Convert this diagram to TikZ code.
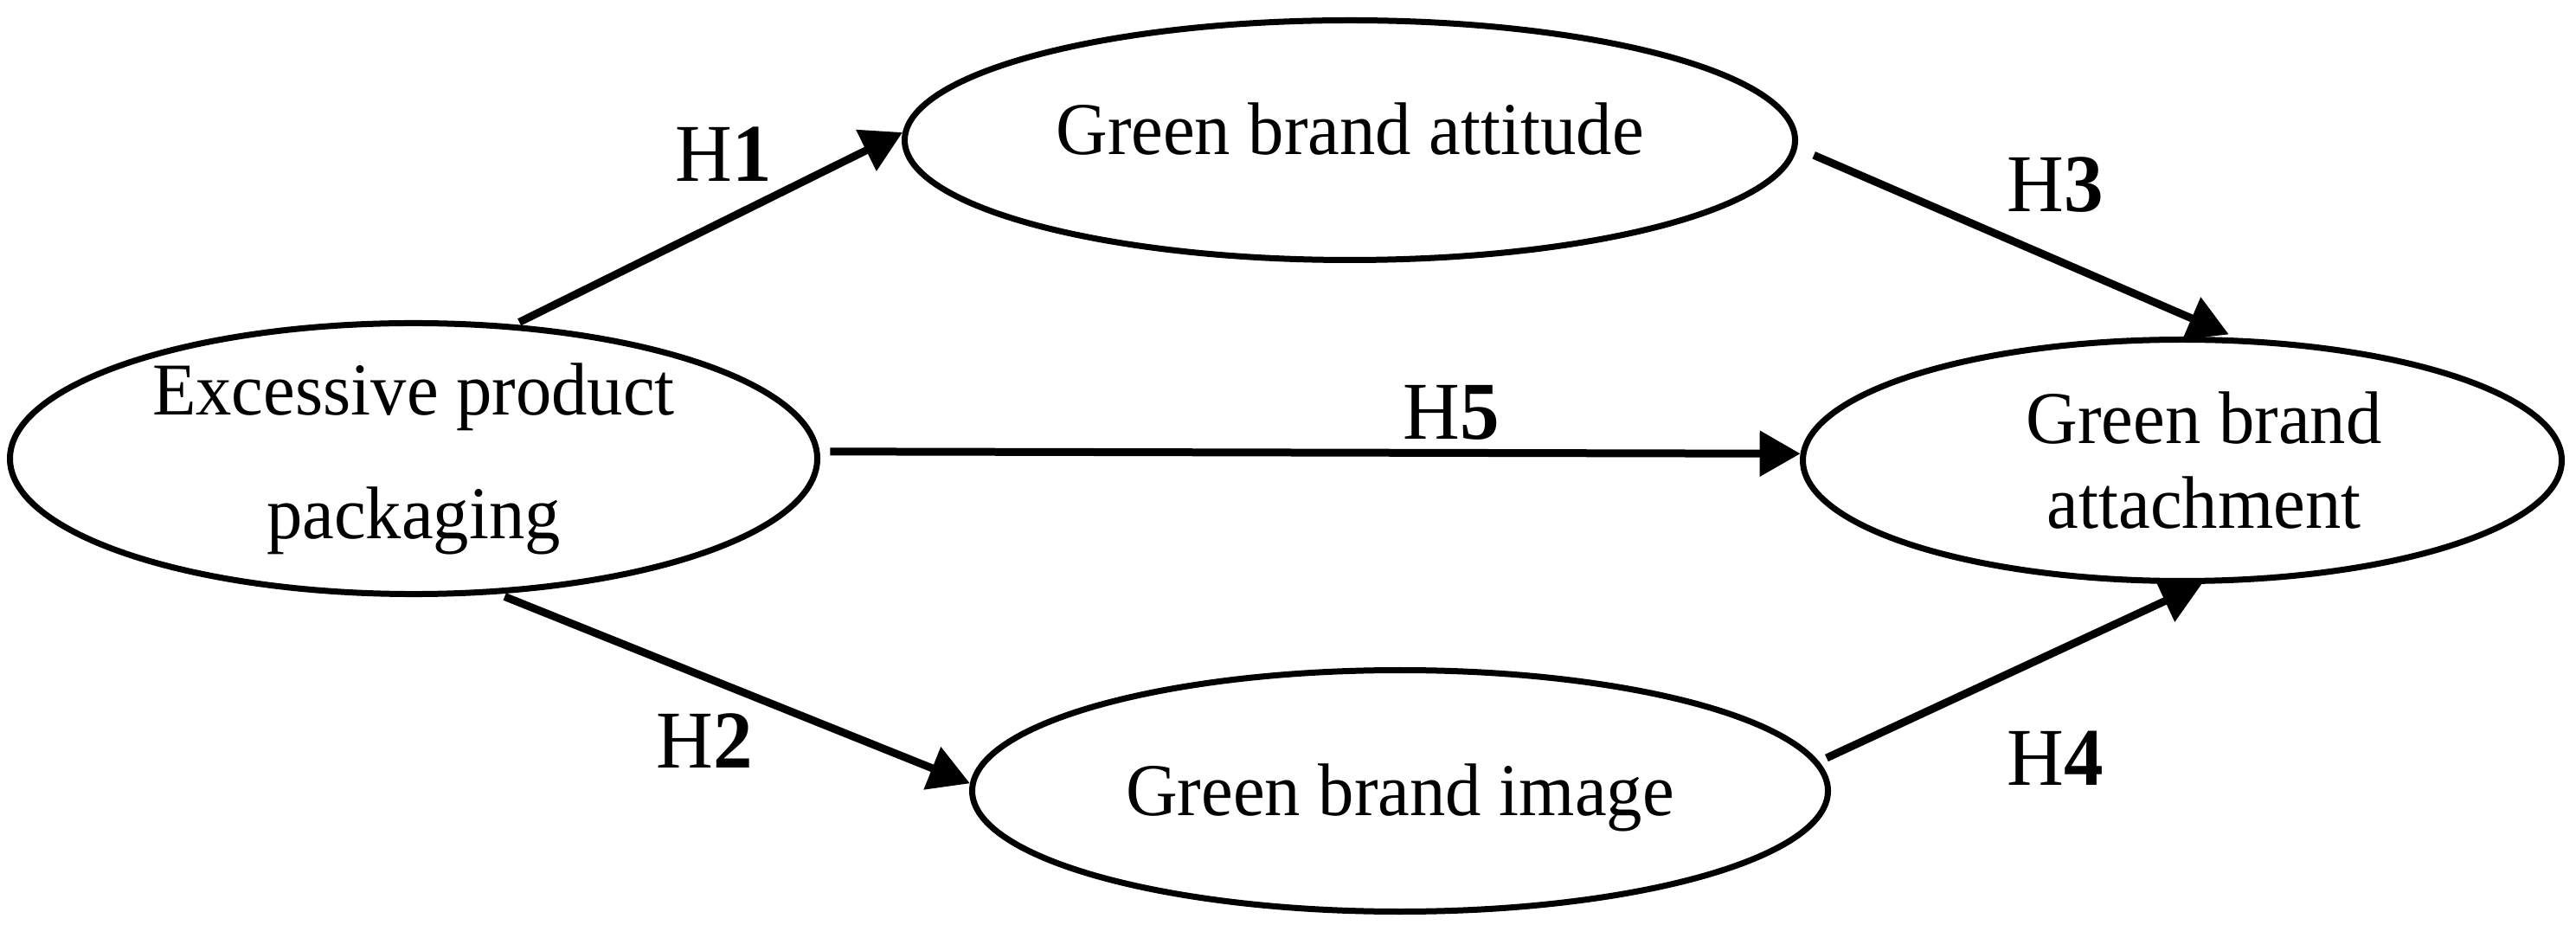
\documentclass[tikz,border=0pt]{standalone}
\usepackage{fontspec}
\setmainfont{Liberation Serif}[FakeStretch=0.96]
\usetikzlibrary{shapes.geometric,arrows.meta}
\begin{document}
\begin{tikzpicture}[
  oval/.style={ellipse, draw, line width=0.07cm, inner sep=0pt, align=center},
  link/.style={-{Triangle[length=0.47cm,width=0.51cm]}, line width=0.09cm},
  hyp/.style={anchor=base, inner sep=0pt, font=\fontsize{27}{32}\selectfont},
]
\useasboundingbox (0,0) rectangle (29.77,-10.69);
\node[oval, minimum width=9.33cm, minimum height=2.77cm,
      font=\fontsize{24.5}{40.7}\selectfont] (exc) at (4.78,-5.30) {Excessive product\\packaging};
\node[oval, minimum width=10.29cm, minimum height=2.77cm, text depth=0.27cm,
      font=\fontsize{24.5}{29}\selectfont] (att) at (15.60,-1.62) {Green brand attitude};
\node[oval, minimum width=8.77cm, minimum height=2.79cm,
      font=\fontsize{24.5}{27.9}\selectfont] (attach) at (25.22,-5.32)
      {\hspace*{0.5cm}Green brand\\\hspace*{0.5cm}attachment};
\node[oval, minimum width=9.89cm, minimum height=2.79cm, text depth=0.03cm,
      font=\fontsize{24.5}{29}\selectfont] (img) at (16.18,-9.14) {Green brand image};

\draw[link, shorten <=0.06cm] (exc.53) -- (att.179);
\draw[link, shorten <=0.12cm] (exc.1) -- (attach.179);
\draw[link, shorten <=0.21cm, shorten >=0.1cm] (att.-1) -- (attach.66);
\draw[link, shorten <=0.08cm] (exc.-58) -- (img.179);
\draw[link, shorten <=0.1cm] (img.4) -- (attach.-81);

\node[hyp] (h1) at (8.36,-2.10) {H\textbf{1}};
\node[hyp] (h5) at (16.77,-5.08) {H\textbf{5}};
\node[hyp] (h3) at (23.75,-2.45) {H\textbf{3}};
\node[hyp] (h4) at (23.75,-9.07) {H\textbf{4}};
\node[hyp] (h2) at (8.14,-8.87) {H\textbf{2}};
\end{tikzpicture}
\end{document}
